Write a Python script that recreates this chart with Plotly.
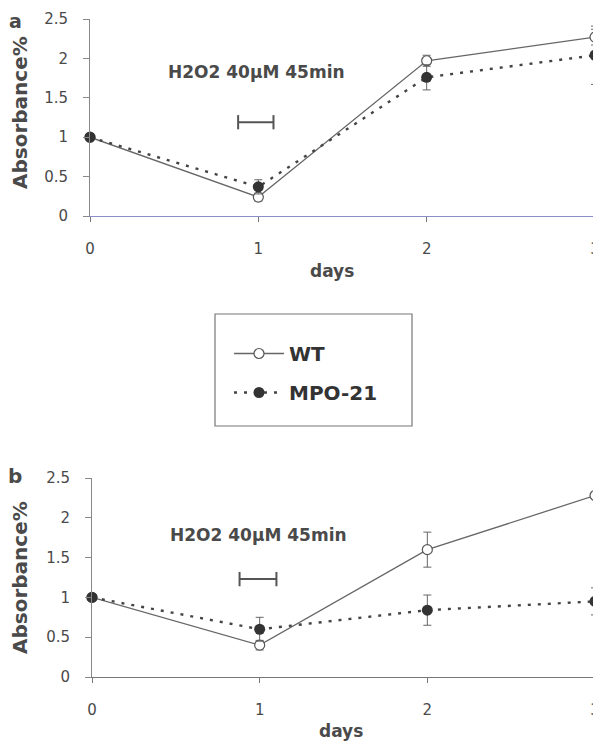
import plotly.graph_objects as go

days = [0, 1, 2, 3]
day_labels = ["0", "1", "2", "3"]
y_ticks = [0, 0.5, 1, 1.5, 2, 2.5]
y_tick_labels = ["0", "0.5", "1", "1.5", "2", "2.5"]

# Panel a
wt_a = [1.0, 0.24, 1.97, 2.27]
wt_a_err = [0.0, 0.05, 0.07, 0.10]
mpo_a = [1.0, 0.37, 1.76, 2.04]
mpo_a_err = [0.0, 0.09, 0.16, 0.37]

# Panel b
wt_b = [1.0, 0.40, 1.60, 2.28]
wt_b_err = [0.0, 0.06, 0.22, 0.03]
mpo_b = [1.0, 0.60, 0.84, 0.95]
mpo_b_err = [0.0, 0.15, 0.19, 0.17]

treat_a = [0.88, 1.09, 1.19]   # start, end, level
treat_b = [0.88, 1.10, 1.23]

annotation_text = "H2O2 40μM 45min"

FONT = "DejaVu Sans, Verdana, sans-serif"
TXT = "#4a4a4a"

# page offset caused by default 8px body margin
OX, OY = 8, 8
W, H = 601 - OX, 743 - OY
def px(x):
    return (x - OX) / W
def py(y):
    return 1 - (y - OY) / H

fig = go.Figure()

def add_panel(wt, wt_err, mpo, mpo_err, xa, ya, show):
    fig.add_trace(go.Scatter(
        x=days, y=wt, name="WT", mode="lines+markers", legendgroup="wt",
        line=dict(color="#666666", width=1.3),
        marker=dict(symbol="circle", size=10, color="white",
                    line=dict(color="#555555", width=1.2)),
        error_y=dict(type="data", array=wt_err, color="#666666",
                     thickness=1, width=4),
        xaxis=xa, yaxis=ya, showlegend=show, cliponaxis=False))
    fig.add_trace(go.Scatter(
        x=days, y=mpo, name="MPO-21", mode="lines+markers", legendgroup="mpo",
        line=dict(color="#444444", width=2.4, dash="3px,7px"),
        marker=dict(symbol="circle", size=11, color="#333333"),
        error_y=dict(type="data", array=mpo_err, color="#666666",
                     thickness=1, width=4),
        xaxis=xa, yaxis=ya, showlegend=show, cliponaxis=False))

add_panel(wt_a, wt_a_err, mpo_a, mpo_a_err, "x", "y", True)
add_panel(wt_b, wt_b_err, mpo_b, mpo_b_err, "x2", "y2", False)

def add_bracket(t, xref, yref):
    x0, x1, yv = t
    for shp in [dict(x0=x0, x1=x1, y0=yv, y1=yv),
                dict(x0=x0, x1=x0, y0=yv - 0.09, y1=yv + 0.09),
                dict(x0=x1, x1=x1, y0=yv - 0.09, y1=yv + 0.09)]:
        fig.add_shape(type="line", xref=xref, yref=yref,
                      line=dict(color="#555555", width=2), **shp)

add_bracket(treat_a, "x", "y")
add_bracket(treat_b, "x2", "y2")

# legend frame
fig.add_shape(type="rect", xref="paper", yref="paper",
              x0=px(215), x1=px(412), y0=py(426), y1=py(314),
              line=dict(color="#777777", width=1.2), fillcolor="rgba(0,0,0,0)")

axis_common = dict(
    range=[0, 3], tickvals=days, ticktext=day_labels, automargin=False,
    showgrid=False, zeroline=False, showline=True,
    ticks="outside", ticklen=5, tickcolor="#777777",
    tickfont=dict(family=FONT, size=15, color=TXT),
    ticklabelstandoff=14, ticklabeloverflow="allow",
)
yaxis_common = dict(
    range=[0, 2.5], tickvals=y_ticks, ticktext=y_tick_labels, automargin=False,
    showgrid=False, zeroline=False, showline=True, linecolor="#888888",
    ticks="outside", ticklen=6, tickcolor="#888888",
    tickfont=dict(family=FONT, size=15, color=TXT),
    ticklabelstandoff=12, ticklabeloverflow="allow",
)

fig.update_layout(
    width=W, height=H,
    margin=dict(l=0, r=0, t=0, b=0, autoexpand=False),
    paper_bgcolor="white", plot_bgcolor="white",
    xaxis=dict(domain=[px(90), px(595)], anchor="y",
               linecolor="#8a8ec8", **axis_common),
    yaxis=dict(domain=[py(216), py(19)], anchor="x", **yaxis_common),
    xaxis2=dict(domain=[px(92), px(595)], anchor="y2",
                linecolor="#777777", **axis_common),
    yaxis2=dict(domain=[py(677), py(478)], anchor="x2", **yaxis_common),
    legend=dict(x=px(229), y=py(334), xanchor="left", yanchor="top",
                borderwidth=0, bgcolor="rgba(0,0,0,0)",
                font=dict(family=FONT, size=20, color="#333333", weight="bold"),
                itemwidth=50, traceorder="grouped", tracegroupgap=10),
    font=dict(family=FONT),
)

ann = []
def A(text, x, y, size, **kw):
    ann.append(dict(text=text, x=px(x), y=py(y), xref="paper", yref="paper",
                    xanchor="center", yanchor="middle", showarrow=False,
                    font=dict(family=FONT, size=size, color=TXT, weight="bold"),
                    **kw))

A("a", 15, 21, 19)
A("b", 15, 476, 20)
A("Absorbance%", 20, 113, 20, textangle=-90)
A("Absorbance%", 20, 578, 20, textangle=-90)
A("days", 332, 271, 17)
A("days", 341, 731, 17)
A(annotation_text, 256, 72, 17)
A(annotation_text, 258, 535, 17)
fig.update_layout(annotations=ann)

fig.write_html("out.html")
